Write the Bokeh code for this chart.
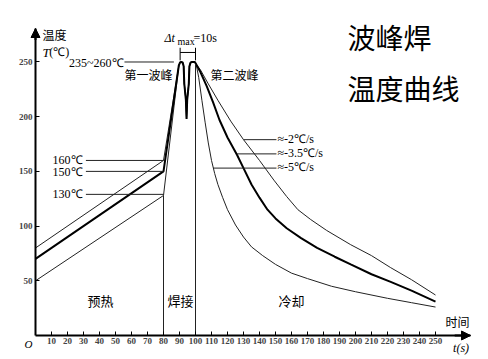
from bokeh.plotting import figure
from bokeh.models import Range1d, FixedTicker, Arrow, NormalHead
from bokeh.core.properties import value
from bokeh.embed import file_html
from bokeh.resources import INLINE

# ---------------- data ----------------
x_ticks = [10, 20, 30, 40, 50, 60, 70, 80, 90, 100, 110, 120, 130, 140, 150,
           160, 170, 180, 190, 200, 210, 220, 230, 240, 250]
y_ticks = [50, 100, 150, 200, 250]

preheat_t = [0, 80]
preheat_hi = [80, 160]      # 160℃ line
preheat_mid = [70, 150]     # 150℃ line
preheat_lo = [50, 128]      # 130℃ line

peak_t = [89.6, 90.3, 91.1, 92.0, 92.6, 93.0, 94.0, 94.4, 94.8, 95.8, 96.2,
          96.9, 97.9, 99.6, 100.4]
peak_T = [247, 249.5, 250, 249.5, 246, 230, 215, 198, 215, 230, 246,
          249.5, 250, 250, 248]

slow_t = [103, 108, 114, 122, 130, 140, 149, 157, 164, 172, 182, 197, 210, 222, 235, 250]
slow_T = [243, 230, 215, 196, 179, 160, 142, 127, 115, 106, 96, 83, 73, 62, 51, 37]

mid_t = [103, 107, 111, 115, 120, 126, 130, 135, 140, 145, 150, 157, 166, 176, 187,
         197, 210, 222, 235, 250]
mid_T = [241, 228, 213, 197, 181, 165, 153, 138, 126, 115, 107, 98, 89, 80, 72,
         65, 56, 49, 41, 31]

fast_t = [102, 104, 106, 108, 110, 112, 114, 117, 120, 125, 130, 135, 142, 150, 160,
          170, 185, 200, 220, 235, 250]
fast_T = [236, 215, 195, 176, 160, 148, 138, 126, 115, 101, 90, 81, 73, 65, 57,
          52, 45, 40, 34, 30, 26]

T_MAX = 280.6
t_MAX = 271.9

# ---------------- figure ----------------
p = figure(width=488, height=359, output_backend="svg", toolbar_location=None,
           x_range=Range1d(-21.875, 283.125), y_range=Range1d(-21.94, 306.2),
           min_border_left=0, min_border_right=0, min_border_top=0,
           min_border_bottom=0)
p.outline_line_color = None
p.grid.visible = False
p.background_fill_color = "white"

for ax in (p.xaxis, p.yaxis):
    ax.fixed_location = 0
    ax.axis_line_width = 2
    ax.axis_line_color = "black"
    ax.major_tick_in = 4
    ax.major_tick_out = 0
    ax.minor_tick_line_color = None
    ax.major_tick_line_color = "black"
    ax.major_label_text_font = "Liberation Serif"
    ax.major_label_text_font_style = "bold"
    ax.major_label_text_font_size = "9px"
    ax.major_label_standoff = 3
p.xaxis.ticker = FixedTicker(ticks=x_ticks)
p.yaxis.ticker = FixedTicker(ticks=y_ticks)
p.xaxis.bounds = (0, t_MAX)
p.yaxis.bounds = (0, T_MAX)

# axis arrows
p.add_layout(Arrow(end=NormalHead(size=9, fill_color="black", line_color="black"),
                   x_start=262, y_start=0, x_end=t_MAX, y_end=0, line_width=2))
p.add_layout(Arrow(end=NormalHead(size=9, fill_color="black", line_color="black"),
                   x_start=0, y_start=270, x_end=0, y_end=T_MAX, line_width=2))

# curves
hi_x = preheat_t + peak_t + slow_t
hi_y = preheat_hi + peak_T + slow_T
mid_x = preheat_t + peak_t + mid_t
mid_y = preheat_mid + peak_T + mid_T
lo_x = preheat_t + peak_t + fast_t
lo_y = preheat_lo + peak_T + fast_T

p.line(hi_x, hi_y, line_color="#222222", line_width=1)
p.line(lo_x, lo_y, line_color="#222222", line_width=1)
p.line(mid_x, mid_y, line_color="black", line_width=2)

# separators
p.segment(x0=[80, 100], y0=[0, 0], x1=[80, 100], y1=[preheat_lo[1], 248],
          line_color="#222222", line_width=1)

# leader lines
p.segment(x0=[31.5, 31.5, 31.5, 55.6, slow_t[4], mid_t[5], 111],
          y0=[160, 150, 129, 250, 179, 166, 153],
          x1=[80, 80, 80, 86.5, 150.6, 150.6, 150.6],
          y1=[160, 150, 129, 250, 179, 166, 153],
          line_color="#222222", line_width=1)

# Δt bracket
p.segment(x0=[90.4, 90.4, 100], y0=[258.7, 251.5, 251.5],
          x1=[100, 90.4, 100], y1=[258.7, 263, 263],
          line_color="black", line_width=1)

SERIF = "Liberation Serif"
CJK = "Noto Sans CJK SC"


def txt(x, y, s, size, font, align="left", style="normal", color="black"):
    p.text(x=[x], y=[y], text=[s], text_font=value(font), text_font_size=size,
           text_align=align, text_baseline="middle", text_font_style=style,
           text_color=color)


txt(4.4, 275, "温度", "12px", CJK)
txt(4.4, 258.7, "T", "13px", SERIF, style="italic")
txt(8.6, 258.7, "(℃)", "12px", SERIF)

txt(55, 249.5, "235~260℃", "12px", SERIF, align="right")
txt(70.6, 238.6, "第一波峰", "12px", CJK, align="center")
txt(124.4, 238.6, "第二波峰", "12px", CJK, align="center")

txt(80.6, 271.5, "Δt", "12px", SERIF, style="italic")
txt(88.7, 268.4, "max", "10px", SERIF)
txt(98.7, 271.5, "=10s", "12px", SERIF)

txt(195, 272.4, "波峰焊", "28px", CJK)
txt(195, 225.8, "温度曲线", "28px", CJK)

txt(29.4, 160, "160℃", "12px", SERIF, align="right")
txt(29.4, 149.5, "150℃", "12px", SERIF, align="right")
txt(29.4, 129, "130℃", "12px", SERIF, align="right")

txt(151.2, 179.2, "≈-2℃/s", "12px", SERIF)
txt(151.2, 166.4, "≈-3.5℃/s", "12px", SERIF)
txt(151.2, 153.6, "≈-5℃/s", "12px", SERIF)

txt(40.6, 32, "预热", "13px", CJK, align="center")
txt(90.6, 32, "焊接", "13px", CJK, align="center")
txt(160, 32, "冷却", "13px", CJK, align="center")
txt(263.7, 12.8, "时间", "12px", CJK, align="center")

txt(-4.4, -8.2, "O", "11px", SERIF, align="center", style="italic")
txt(266, -11, "t(s)", "12px", SERIF, align="center", style="italic")

open("out.html", "w").write(file_html(p, INLINE))
